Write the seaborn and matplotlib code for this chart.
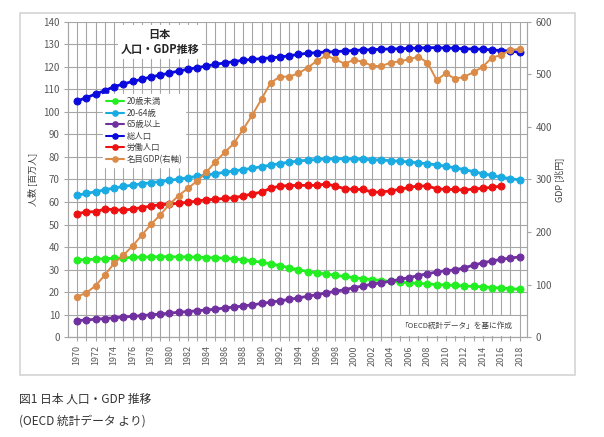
import matplotlib
matplotlib.use('Agg')
import matplotlib.pyplot as plt
import seaborn as sns
from matplotlib.patches import Rectangle

# data (millions of people, GDP in trillion yen)
years = list(range(1970, 2019))
under20 = [34.3, 34.4, 34.6, 34.8, 35.0, 35.2, 35.4, 35.5, 35.6, 35.7,
           35.7, 35.6, 35.6, 35.5, 35.3, 35.2, 35.0, 34.7, 34.3, 33.8,
           33.2, 32.5, 31.7, 30.8, 29.9, 29.1, 28.5, 28.0, 27.4, 26.9,
           26.4, 25.9, 25.5, 25.1, 24.7, 24.4, 24.1, 23.8, 23.6, 23.3,
           23.1, 22.9, 22.7, 22.5, 22.3, 22.0, 21.8, 21.5, 21.2]
age20_64 = [63.0, 63.8, 64.6, 65.4, 66.2, 66.9, 67.5, 68.1, 68.6, 69.1,
            69.6, 70.2, 70.8, 71.4, 72.0, 72.6, 73.2, 73.8, 74.4, 75.0,
            75.7, 76.4, 77.1, 77.7, 78.2, 78.6, 78.9, 79.1, 79.2, 79.2,
            79.1, 79.0, 78.8, 78.6, 78.4, 78.1, 77.8, 77.4, 77.0, 76.5,
            75.9, 75.2, 74.4, 73.5, 72.6, 71.8, 71.0, 70.4, 69.8]
over65 = [7.3, 7.6, 7.9, 8.2, 8.5, 8.9, 9.2, 9.5, 9.9, 10.2,
          10.6, 11.0, 11.3, 11.7, 12.0, 12.4, 12.9, 13.3, 13.8, 14.3,
          14.9, 15.5, 16.1, 16.7, 17.4, 18.1, 18.8, 19.6, 20.3, 21.0,
          21.9, 22.7, 23.5, 24.1, 24.8, 25.6, 26.4, 27.3, 28.1, 28.9,
          29.5, 29.8, 30.8, 31.9, 33.0, 33.8, 34.5, 35.1, 35.6]
total = [104.9, 106.4, 108.0, 109.5, 111.3, 112.4, 113.6, 114.5, 115.6, 116.4,
         117.3, 118.2, 119.0, 119.7, 120.4, 121.2, 121.8, 122.4, 123.0, 123.4,
         123.7, 124.1, 124.4, 125.0, 125.6, 126.1, 126.4, 126.7, 126.8, 127.1,
         127.3, 127.6, 127.7, 127.9, 128.0, 128.1, 128.3, 128.4, 128.6, 128.6,
         128.4, 128.3, 128.1, 128.0, 127.9, 127.6, 127.3, 127.1, 126.5]
labor_years = list(range(1970, 2017))
labor = [54.8, 55.6, 55.7, 56.9, 56.6, 56.3, 56.9, 57.5, 58.2, 58.8,
         59.1, 59.4, 59.9, 60.4, 61.0, 61.2, 61.6, 61.9, 62.7, 63.6,
         64.4, 66.1, 67.1, 67.3, 67.4, 67.4, 67.4, 68.0, 67.1, 65.9,
         65.6, 65.6, 64.4, 64.4, 65.0, 65.6, 66.5, 67.1, 67.1, 65.9,
         65.6, 65.6, 65.3, 65.8, 66.1, 66.5, 67.1]
gdp = [76.8, 84.4, 97.8, 118.1, 140.3, 155.6, 173.3, 193.7, 214.6, 232.4,
       252.7, 269.2, 283.2, 297.1, 313.7, 334.0, 351.7, 368.9, 395.6, 422.9,
       453.3, 484.4, 495.9, 495.9, 502.2, 513.0, 525.7, 536.5, 528.9, 520.6,
       527.6, 524.4, 516.2, 516.2, 522.5, 525.1, 528.9, 534.0, 522.5, 489.5,
       502.2, 491.4, 495.9, 504.1, 514.9, 532.1, 537.1, 546.7, 548.6]

labels = ['20歳未満', '20-64歳', '65歳以上', '総人口', '労働人口', '名目GDP(右軸)']
colors = ['#22EE22', '#1AABE3', '#7030A0', '#0A0ADC', '#EE1111', '#DB8B48']

sns.set_style('white')
plt.rcParams['font.family'] = ['Noto Sans CJK JP', 'DejaVu Sans']

fig = plt.figure(figsize=(6.04, 4.37), dpi=100)
fig.patches.append(Rectangle((0.0331, 0.1419), 0.9189, 0.8284, transform=fig.transFigure,
                             fill=False, edgecolor='#D4D4D4', linewidth=1.2))
ax = fig.add_axes([0.1126, 0.2288, 0.7599, 0.7209])
ax2 = ax.twinx()

left_series = [(years, under20), (years, age20_64), (years, over65),
               (years, total), (labor_years, labor)]
for (xs, ys), lab, c in zip(left_series, labels[:5], colors[:5]):
    sns.lineplot(x=xs, y=ys, ax=ax, color=c, marker='o', markersize=5,
                 markeredgecolor=c, linewidth=2, label=lab, legend=False)
sns.lineplot(x=years, y=gdp, ax=ax2, color=colors[5], marker='o', markersize=4.5,
             markeredgecolor=colors[5], linewidth=1.4, label=labels[5], legend=False)

ax.set_xlim(1969.0, 2018.8)
ax.set_ylim(0, 140)
ax2.set_ylim(0, 600)
ax.set_yticks(range(0, 141, 10))
ax2.set_yticks(range(0, 601, 100))
ax.set_xticks(years)
ax.set_xticklabels([str(y) if y % 2 == 0 else '' for y in years], rotation=90)

ax.grid(True, color='#A6A6A6', linewidth=0.8)
ax2.grid(False)
for a in (ax, ax2):
    a.spines['top'].set_visible(False)
    for s in ('left', 'right', 'bottom'):
        a.spines[s].set_color('#A6A6A6')
        a.spines[s].set_linewidth(0.8)
ax.tick_params(axis='both', labelsize=7, colors='#A6A6A6', labelcolor='#595959',
               length=3, width=0.8, direction='out', left=True, bottom=True, pad=3)
ax.tick_params(axis='x', labelsize=6.5)
ax2.tick_params(axis='y', labelsize=7, colors='#A6A6A6', labelcolor='#595959',
                length=3, width=0.8, direction='out', right=True, pad=3)

ax.set_ylabel('人数 [百万人]', fontsize=6.5, color='#404040', labelpad=4)
ax2.set_ylabel('GDP [兆円]', fontsize=6.5, color='#404040', labelpad=2, rotation=90)
ax.set_xlabel('')

h1, l1 = ax.get_legend_handles_labels()
h2, l2 = ax2.get_legend_handles_labels()
leg = ax2.legend(h1 + h2, l1 + l2, loc='upper left', bbox_to_anchor=(0.076, 0.77),
                 fontsize=6, frameon=True, fancybox=False, framealpha=1,
                 edgecolor='white', handlelength=2.2, labelspacing=0.3,
                 borderpad=0.35, handletextpad=0.3, borderaxespad=0)
for t in leg.get_texts():
    t.set_color('#404040')
for h in leg.get_lines():
    h.set_markersize(4)
    h.set_linewidth(1.5)

ax2.text(0.2, 0.937, '日本\n人口・GDP推移', transform=ax.transAxes, ha='center', va='center',
         fontsize=8, fontweight='bold', color='#262626', linespacing=1.25,
         bbox=dict(facecolor='white', edgecolor='none', pad=2))
ax2.text(0.845, 0.035, '「OECD統計データ」を基に作成', transform=ax.transAxes,
         ha='center', va='center', fontsize=5.5, color='#404040',
         bbox=dict(facecolor='white', edgecolor='none', pad=4.5))

fig.text(0.031, 1 - 399 / 437, '図1 日本 人口・GDP 推移', fontsize=8.5, color='#333333', va='center')
fig.text(0.031, 1 - 421 / 437, '(OECD 統計データ より)', fontsize=8.5, color='#333333', va='center')

fig.savefig('out.png', dpi=100)
